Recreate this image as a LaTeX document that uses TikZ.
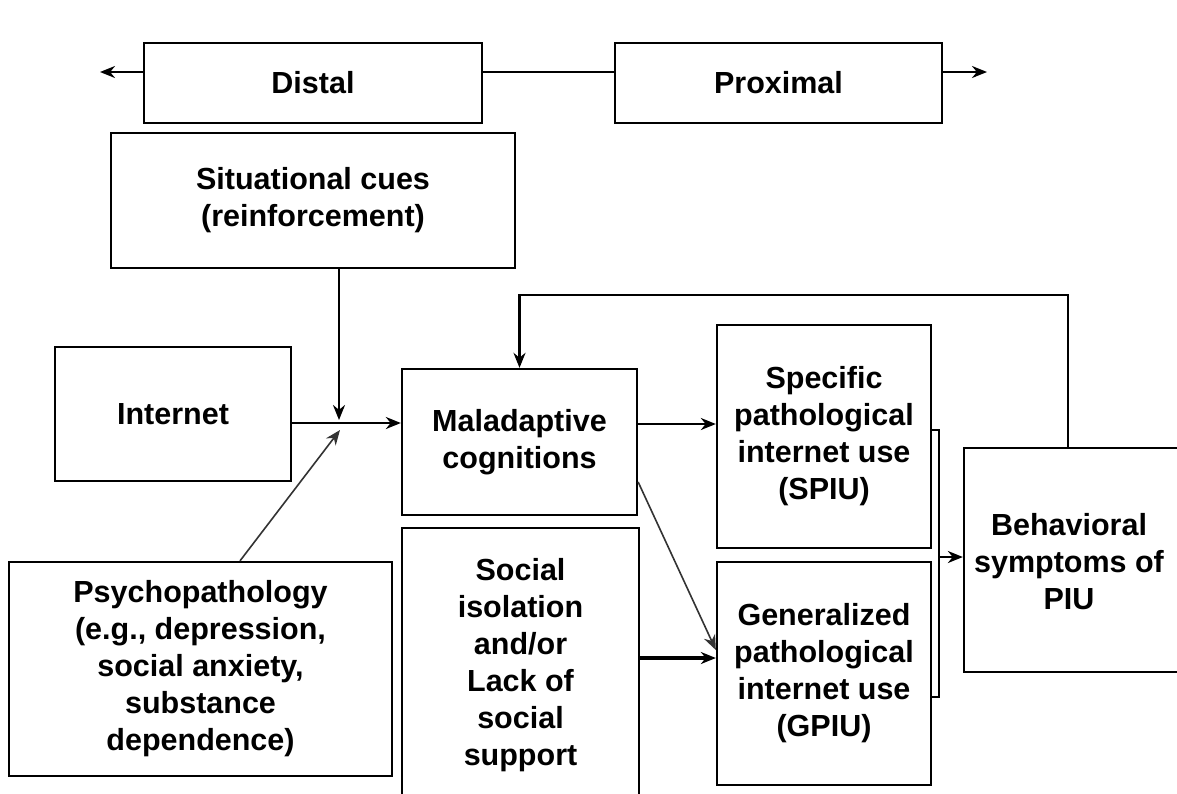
\documentclass[tikz,border=0pt]{standalone}
\usepackage{fontspec}
\setmainfont{Liberation Sans}
\usetikzlibrary{arrows.meta}
\begin{document}
\begin{tikzpicture}[x=1pt,y=-1pt,
  box/.style={draw, line width=2.3pt, align=center, inner sep=0pt,
    font=\fontsize{30.5}{37}\selectfont\bfseries},
  txt/.style={align=center, inner sep=0pt, font=\fontsize{30.5}{37}\selectfont\bfseries},
  conn/.style={line width=2.4pt, -{Stealth[length=15pt,width=12pt]}},
  thinconn/.style={line width=1.6pt, draw=black!80, -{Stealth[length=15pt,width=12pt]}},
  plain/.style={line width=2.6pt}
]
\useasboundingbox (0,0) rectangle (1177,793);
\fill[white] (0,0) rectangle (1177,793);

% nodes
\node[box, minimum width=338pt, minimum height=80pt] (distal) at (313,83) {Distal};
\node[box, minimum width=327pt, minimum height=80pt] (proximal) at (778.5,83) {Proximal};
\node[box, minimum width=404pt, minimum height=135pt] (situ) at (313,200.5) {Situational cues\\(reinforcement)};
\node[box, minimum width=236pt, minimum height=134pt] (internet) at (173,414) {Internet};
\node[box, minimum width=383pt, minimum height=214pt] (psycho) at (200.5,669) {Psychopathology\\(e.g., depression,\\social anxiety,\\substance\\dependence)};
\node[box, minimum width=235pt, minimum height=146pt] (mal) at (519.5,442) {Maladaptive\\cognitions};
\node[box, minimum width=237pt, minimum height=274pt] (social) at (520.5,665) {Social\\isolation\\and/or\\Lack of\\social\\support};
\node[box, minimum width=214pt, minimum height=223pt] (spiu) at (824,436.5) {Specific\\pathological\\internet use\\(SPIU)};
\node[box, minimum width=214pt, minimum height=223pt] (gpiu) at (824,673.5) {Generalized\\pathological\\internet use\\(GPIU)};
\node[box, minimum width=226pt, minimum height=224pt] (beh) at (1077,560) {};
\node[txt] (behtxt) at (1069,562) {Behavioral\\symptoms of\\PIU};

% helper coordinates
\coordinate (lt) at (100,72);
\coordinate (rt) at (987,72);
\coordinate (jv) at (339,420);
\coordinate (yi) at (0,423);
\coordinate (pd) at (340,430);
\coordinate (px) at (240,0);
\coordinate (ys) at (0,424);
\coordinate (md) at (0,482);
\coordinate (gd) at (0,650);
\coordinate (yg) at (0,658);
\coordinate (bt) at (939,430);
\coordinate (bb) at (939,697);
\coordinate (ba) at (939,557);
\coordinate (fb) at (1068,295);

% connectors
\draw[conn] (distal.west |- lt) -- (lt);
\draw[plain] (distal.east |- lt) -- (proximal.west |- lt);
\draw[conn] (proximal.east |- rt) -- (rt);
\draw[conn] (situ.south -| jv) -- (jv);
\draw[conn] (internet.east |- yi) -- (mal.west |- yi);
\draw[thinconn] (psycho.north -| px) -- (pd);
\draw[conn] (mal.east |- ys) -- (spiu.west |- ys);
\draw[thinconn] (mal.east |- md) -- (gpiu.west |- gd);
\draw[conn, line width=3.4pt] (social.east |- yg) -- (gpiu.west |- yg);
\draw[plain] (spiu.east |- bt) -- (bt) -- (bb) -- (gpiu.east |- bb);
\draw[conn] (ba) -- (beh.west |- ba);
\draw[conn] (beh.north -| fb) -- (fb) -| (mal.north);
\end{tikzpicture}
\end{document}
